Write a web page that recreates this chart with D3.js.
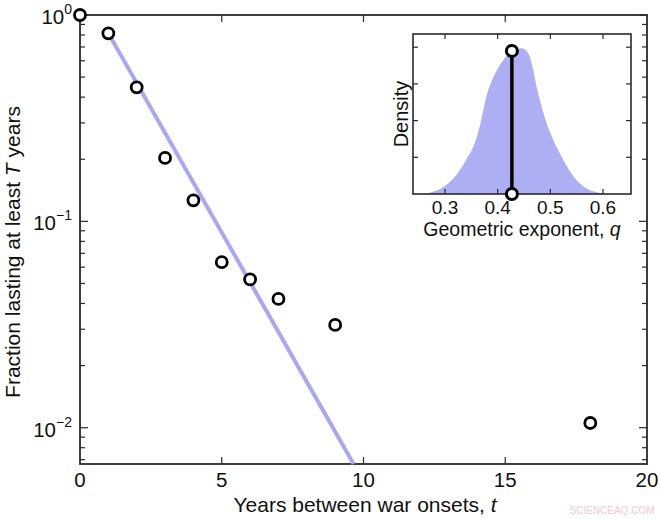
<!DOCTYPE html>
<html><head><meta charset="utf-8">
<script src="https://cdn.jsdelivr.net/npm/d3@7"></script>
<style>body{margin:0;background:#fff} svg text{font-family:"Liberation Sans",Arial,Helvetica,sans-serif;fill:#111}</style>
</head><body><svg id="c" width="660" height="519"></svg>
<script>
// ---- data ----
const years = [0, 1, 2, 3, 4, 5, 6, 7, 9, 18];
const fraction = [1.0, 0.815, 0.446, 0.203, 0.1265, 0.0634, 0.0523, 0.0421, 0.0315, 0.01054];
const fitYears = [1, 9.65];
const fitFraction = [0.815, 0.00667];
const xTicks = [0, 5, 10, 15, 20];
const yMajor = [1, 0.1, 0.01];
const yExponents = ["0", "\u22121", "\u22122"];
const qValues = [0.2392, 0.252, 0.277, 0.3025, 0.3214, 0.340, 0.3564, 0.3658, 0.3721, 0.3784, 0.3879, 0.4006, 0.4133, 0.429, 0.4455, 0.458, 0.4676, 0.474, 0.4835, 0.493, 0.5055, 0.5214, 0.540, 0.5594, 0.5846, 0.616, 0.6532];
const densityValues = [0, 0, 0.31, 1.23, 2.59, 4.63, 6.90, 9.17, 11.21, 13.26, 15.3, 17.12, 18.48, 19.5, 19.85, 19.17, 16.89, 14.6, 11.9, 9.63, 7.36, 5.08, 2.81, 1.23, 0.31, 0, 0];
const qEstimate = 0.427;
const qEstimateDensity = 19.5;
const qTicks = [0.3, 0.4, 0.5, 0.6];
const densityTicks = [5, 10, 15, 20];

const svg = d3.select("#c");
const axisCol = "#2a2a2a";

// ---- main plot ----
const x = d3.scaleLinear().domain([0, 20]).range([80, 647]);
const y = d3.scaleLog().domain([0.00667, 1]).range([464, 15]);
const [X0, X1] = x.range(); const [Y0, Y1] = y.range();

const gm = svg.append("g");
const yMinor = [];
for (let e = -3; e <= -1; e++) for (let m = 2; m <= 9; m++) { const v = m * Math.pow(10, e); if (v >= y.domain()[0] && v <= 1) yMinor.push(v); }
yMinor.forEach(v => {
  gm.append("line").attr("x1", X0).attr("x2", X0 + 5).attr("y1", y(v)).attr("y2", y(v)).attr("stroke", axisCol).attr("stroke-width", 1.2);
  gm.append("line").attr("x1", X1).attr("x2", X1 - 5).attr("y1", y(v)).attr("y2", y(v)).attr("stroke", axisCol).attr("stroke-width", 1.2);
});
yMajor.forEach((v, i) => {
  gm.append("line").attr("x1", X0).attr("x2", X0 + 8).attr("y1", y(v)).attr("y2", y(v)).attr("stroke", axisCol).attr("stroke-width", 1.2);
  gm.append("line").attr("x1", X1).attr("x2", X1 - 8).attr("y1", y(v)).attr("y2", y(v)).attr("stroke", axisCol).attr("stroke-width", 1.2);
  const t = gm.append("text").attr("x", 72).attr("y", y(v) + 9).attr("text-anchor", "end").attr("font-size", 20.5);
  t.append("tspan").text("10");
  t.append("tspan").attr("dy", -10).attr("font-size", 14).text(yExponents[i]);
});
xTicks.forEach(v => {
  if (v > 0 && v < 20) {
    gm.append("line").attr("x1", x(v)).attr("x2", x(v)).attr("y1", Y0).attr("y2", Y0 - 7).attr("stroke", axisCol).attr("stroke-width", 1.2);
    gm.append("line").attr("x1", x(v)).attr("x2", x(v)).attr("y1", Y1).attr("y2", Y1 + 7).attr("stroke", axisCol).attr("stroke-width", 1.2);
  }
  gm.append("text").attr("x", x(v)).attr("y", 487).attr("text-anchor", "middle").attr("font-size", 20.5).text(v);
});
gm.append("rect").attr("x", X0).attr("y", Y1).attr("width", X1 - X0).attr("height", Y0 - Y1)
  .attr("fill", "none").attr("stroke", axisCol).attr("stroke-width", 1.8);

// fit line
svg.append("path")
  .datum(fitYears.map((t, i) => [t, fitFraction[i]]))
  .attr("d", d3.line().x(d => x(d[0])).y(d => y(d[1])))
  .attr("stroke", "#a9a9ec").attr("stroke-width", 4).attr("fill", "none");

// points
svg.append("g").selectAll("circle").data(years.map((t, i) => [t, fraction[i]])).join("circle")
  .attr("cx", d => x(d[0])).attr("cy", d => y(d[1])).attr("r", 5.5)
  .attr("fill", "#fff").attr("stroke", "#000").attr("stroke-width", 2.8);

// axis labels
const xl = svg.append("text").attr("x", 365).attr("y", 512).attr("text-anchor", "middle").attr("font-size", 21);
xl.append("tspan").text("Years between war onsets, ");
xl.append("tspan").attr("font-style", "italic").text("t");
const yl = svg.append("text").attr("transform", "translate(20,252) rotate(-90)").attr("text-anchor", "middle").attr("font-size", 21);
yl.append("tspan").text("Fraction lasting at least ");
yl.append("tspan").attr("font-style", "italic").text("T");
yl.append("tspan").text(" years");

// ---- inset ----
const qx = d3.scaleLinear().domain([0.2392, 0.6532]).range([413, 631]);
const dy = d3.scaleLinear().domain([0, 21.8]).range([194, 34]);
const [IX0, IX1] = qx.range(); const [IY0, IY1] = dy.range();
const gi = svg.append("g");
gi.append("rect").attr("x", IX0).attr("y", IY1).attr("width", IX1 - IX0).attr("height", IY0 - IY1).attr("fill", "#fff");
gi.append("path")
  .datum(qValues.map((q, i) => [q, densityValues[i]]))
  .attr("d", d3.area().x(d => qx(d[0])).y0(IY0).y1(d => dy(d[1])).curve(d3.curveMonotoneX))
  .attr("fill", "#aeaef5");
qTicks.forEach(v => {
  gi.append("line").attr("x1", qx(v)).attr("x2", qx(v)).attr("y1", IY0).attr("y2", IY0 - 5).attr("stroke", axisCol).attr("stroke-width", 1.2);
  gi.append("line").attr("x1", qx(v)).attr("x2", qx(v)).attr("y1", IY1).attr("y2", IY1 + 5).attr("stroke", axisCol).attr("stroke-width", 1.2);
  gi.append("text").attr("x", qx(v)).attr("y", 214).attr("text-anchor", "middle").attr("font-size", 19).text(v.toFixed(1));
});
densityTicks.forEach(v => {
  gi.append("line").attr("x1", IX0).attr("x2", IX0 + 5).attr("y1", dy(v)).attr("y2", dy(v)).attr("stroke", axisCol).attr("stroke-width", 1.2);
  gi.append("line").attr("x1", IX1).attr("x2", IX1 - 5).attr("y1", dy(v)).attr("y2", dy(v)).attr("stroke", axisCol).attr("stroke-width", 1.2);
});
gi.append("rect").attr("x", IX0).attr("y", IY1).attr("width", IX1 - IX0).attr("height", IY0 - IY1)
  .attr("fill", "none").attr("stroke", axisCol).attr("stroke-width", 1.6);
gi.append("line").attr("x1", qx(qEstimate)).attr("x2", qx(qEstimate)).attr("y1", dy(0)).attr("y2", dy(qEstimateDensity))
  .attr("stroke", "#000").attr("stroke-width", 3.5);
gi.selectAll("circle.m").data([0, qEstimateDensity]).join("circle")
  .attr("cx", qx(qEstimate)).attr("cy", d => dy(d)).attr("r", 5.5)
  .attr("fill", "#fff").attr("stroke", "#000").attr("stroke-width", 3);
const il = gi.append("text").attr("x", 522).attr("y", 236).attr("text-anchor", "middle").attr("font-size", 19.5);
il.append("tspan").text("Geometric exponent, ");
il.append("tspan").attr("font-style", "italic").text("q");
gi.append("text").attr("transform", "translate(408,114) rotate(-90)").attr("text-anchor", "middle").attr("font-size", 20).text("Density");

// watermark
svg.append("text").attr("x", 612).attr("y", 514).attr("text-anchor", "middle").attr("font-size", 10)
  .style("fill", "#f3c9cc").text("SCIENCEAQ.COM");
</script></body></html>
